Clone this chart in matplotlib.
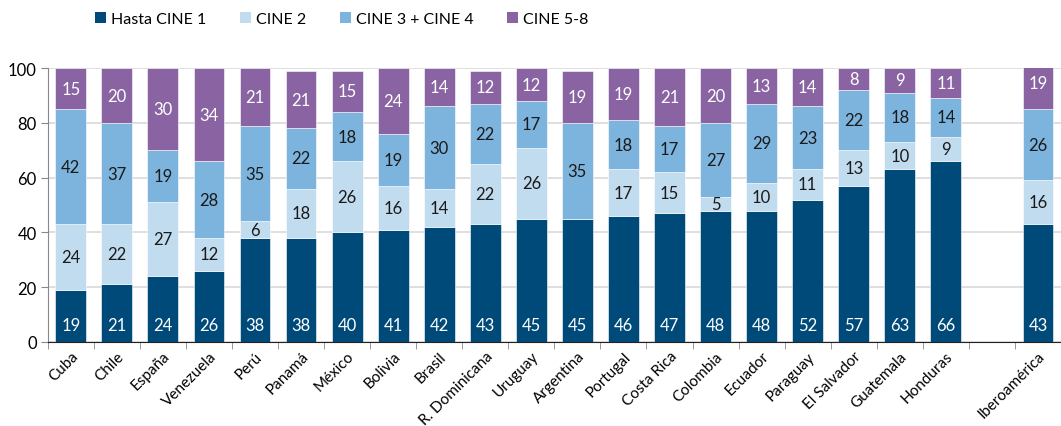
import matplotlib
matplotlib.use("Agg")
import matplotlib.pyplot as plt
import numpy as np
from matplotlib.patches import Patch

countries = ["Cuba", "Chile", "España", "Venezuela", "Perú", "Panamá", "México",
             "Bolivia", "Brasil", "R. Dominicana", "Uruguay", "Argentina", "Portugal",
             "Costa Rica", "Colombia", "Ecuador", "Paraguay", "El Salvador",
             "Guatemala", "Honduras", "", "Iberoamérica"]
cine1 = [19, 21, 24, 26, 38, 38, 40, 41, 42, 43, 45, 45, 46, 47, 48, 48, 52, 57, 63, 66, None, 43]
cine2 = [24, 22, 27, 12, 6, 18, 26, 16, 14, 22, 26, 0, 17, 15, 5, 10, 11, 13, 10, 9, None, 16]
cine34 = [42, 37, 19, 28, 35, 22, 18, 19, 30, 22, 17, 35, 18, 17, 27, 29, 23, 22, 18, 14, None, 26]
cine58 = [15, 20, 30, 34, 21, 21, 15, 24, 14, 12, 12, 19, 19, 21, 20, 13, 14, 8, 9, 11, None, 19]

series_names = ["Hasta CINE 1", "CINE 2", "CINE 3 + CINE 4", "CINE 5-8"]
colors = ["#004a7a", "#c2dcef", "#7db4de", "#8a64a2"]
text_colors = ["white", "#1a1a1a", "#1a1a1a", "white"]

plt.rcParams['font.family'] = ['Lato', 'DejaVu Sans']

fig = plt.figure(figsize=(10.61, 4.27), dpi=100)
ax = fig.add_axes([0.045, 0.197, 0.955, 0.641])

series = [cine1, cine2, cine34, cine58]
x = np.arange(len(countries))
bottom = np.zeros(len(countries))
width = 0.67
for si, (vals, col, tc) in enumerate(zip(series, colors, text_colors)):
    v = np.array([0 if a is None else a for a in vals], dtype=float)
    ax.bar(x, v, width, bottom=bottom, color=col, edgecolor="white", linewidth=0.4, zorder=2)
    for i, a in enumerate(vals):
        if a is None or a == 0:
            continue
        if si == 0:
            yy = 6
        else:
            yy = bottom[i] + a / 2
        ax.text(x[i], yy, str(a), ha="center", va="center", color=tc, fontsize=12, zorder=3)
    bottom += v

ax.set_ylim(0, 100)
ax.set_xlim(-0.5, 21.28)
ax.set_yticks([0, 20, 40, 60, 80, 100])
ax.tick_params(axis="y", labelsize=12, length=5, color="#888888", pad=3)
ax.yaxis.grid(True, color="#d9d9d9", linewidth=1.2, zorder=0)
ax.set_axisbelow(True)

ax.set_xticks(x)
ax.set_xticklabels(countries, rotation=45, ha="right", rotation_mode="anchor", fontsize=11)
ax.tick_params(axis="x", length=0, pad=5)
ax.set_xticks(np.arange(-0.5, 21.6, 1), minor=True)
ax.tick_params(axis="x", which="minor", length=5, color="#888888")

for s in ["top", "right"]:
    ax.spines[s].set_visible(False)
ax.spines["left"].set_color("#888888")
ax.spines["bottom"].set_color("#222222")

handles = [Patch(facecolor=c, edgecolor="none") for c in colors]
fig.legend(handles, series_names, loc="center", bbox_to_anchor=(0.322, 0.953), ncol=4,
           frameon=False, fontsize=11.5, handlelength=0.7, handleheight=0.7,
           handletextpad=0.3, columnspacing=2.1)

fig.savefig("out.png", dpi=100)
